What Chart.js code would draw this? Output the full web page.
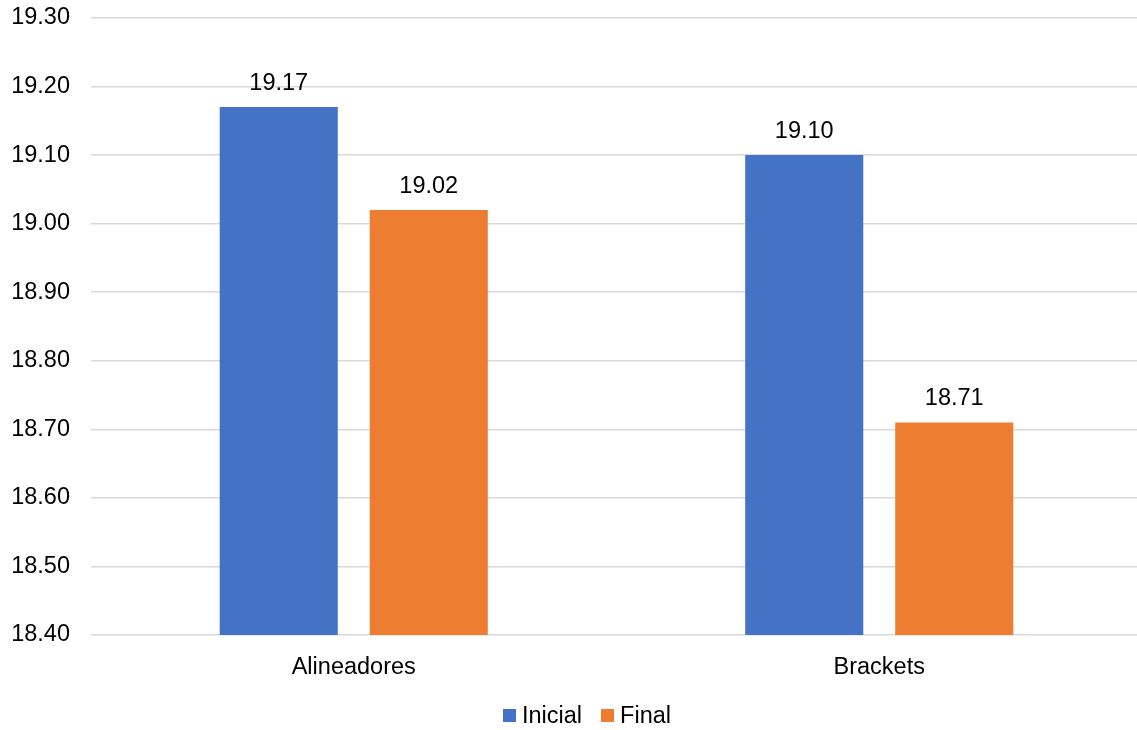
<!DOCTYPE html>
<html>
<head>
<meta charset="utf-8">
<script src="https://cdn.jsdelivr.net/npm/chart.js@4.4.1/dist/chart.umd.min.js"></script>
<style>
  html, body { margin: 0; padding: 0; background: #ffffff; overflow: hidden; }
  #wrap { width: 1137px; height: 730px; position: relative; overflow: hidden; }
  #c { position: absolute; left: 0; top: 0; }
  #legend {
    position: absolute; left: 503px; top: 700px; height: 30px;
    display: flex; align-items: center;
    font-family: 'Liberation Sans', Arial, sans-serif; font-size: 23.5px; color: #000;
  }
  #legend .item { display: flex; align-items: center; margin-right: 19px; }
  #legend .box { width: 13px; height: 13px; margin-right: 6px; }
</style>
</head>
<body>
<div id="wrap">
  <canvas id="c" width="1142" height="730"></canvas>
  <div id="legend"></div>
</div>
<script>
const categories = ['Alineadores', 'Brackets'];
const inicialValues = [19.17, 19.10];
const finalValues = [19.02, 18.71];
const seriesNames = ['Inicial', 'Final'];
const seriesColors = ['#4472C4', '#ED7D31'];
const yMin = 18.4;
const yMax = 19.3;
const yStep = 0.1;

const FONT = "'Liberation Sans', Arial, sans-serif";
const FONT_SIZE = 23.5;

// Writes each bar's value just above its top edge
const valueLabels = {
  id: 'valueLabels',
  afterDatasetsDraw(chart) {
    const ctx = chart.ctx;
    ctx.save();
    ctx.font = FONT_SIZE + 'px ' + FONT;
    ctx.fillStyle = '#000000';
    ctx.textAlign = 'center';
    ctx.textBaseline = 'alphabetic';
    chart.data.datasets.forEach((ds, i) => {
      chart.getDatasetMeta(i).data.forEach((bar, j) => {
        ctx.fillText(ds.data[j].toFixed(2), bar.x, bar.y - 17);
      });
    });
    ctx.restore();
  }
};

const chart = new Chart(document.getElementById('c'), {
  type: 'bar',
  data: {
    labels: categories,
    datasets: [
      { label: seriesNames[0], data: inicialValues, backgroundColor: seriesColors[0] },
      { label: seriesNames[1], data: finalValues, backgroundColor: seriesColors[1] }
    ]
  },
  options: {
    responsive: false,
    animation: false,
    layout: { padding: { top: 18, right: 0, left: 0, bottom: 0 } },
    datasets: {
      bar: { categoryPercentage: 0.571, barPercentage: 0.787 }
    },
    scales: {
      x: {
        grid: { display: false, drawTicks: false },
        border: { display: false },
        afterFit(scale) { scale.height = 95; scale.paddingLeft = 0; scale.paddingRight = 0; },
        ticks: { color: '#000000', font: { family: FONT, size: FONT_SIZE }, padding: 18 }
      },
      y: {
        min: yMin,
        max: yMax,
        afterFit(scale) { scale.width = 91; scale.paddingTop = 0; scale.paddingBottom = 0; },
        afterBuildTicks(scale) {
          const t = [];
          for (let v = yMin; v <= yMax + 1e-9; v += yStep) t.push({ value: Math.round(v * 100) / 100 });
          scale.ticks = t;
        },
        grid: { color: '#d9d9d9', lineWidth: 1.5, drawTicks: false },
        border: { display: false },
        ticks: {
          color: '#000000',
          font: { family: FONT, size: FONT_SIZE },
          padding: 21,
          callback: v => Number(v).toFixed(2)
        }
      }
    },
    plugins: {
      legend: { display: false },
      tooltip: { enabled: false }
    }
  },
  plugins: [valueLabels]
});

// Legend built from the chart's datasets
const legend = document.getElementById('legend');
chart.data.datasets.forEach(ds => {
  const item = document.createElement('div');
  item.className = 'item';
  const box = document.createElement('span');
  box.className = 'box';
  box.style.background = ds.backgroundColor;
  const txt = document.createElement('span');
  txt.textContent = ds.label;
  item.appendChild(box);
  item.appendChild(txt);
  legend.appendChild(item);
});
</script>
</body>
</html>
